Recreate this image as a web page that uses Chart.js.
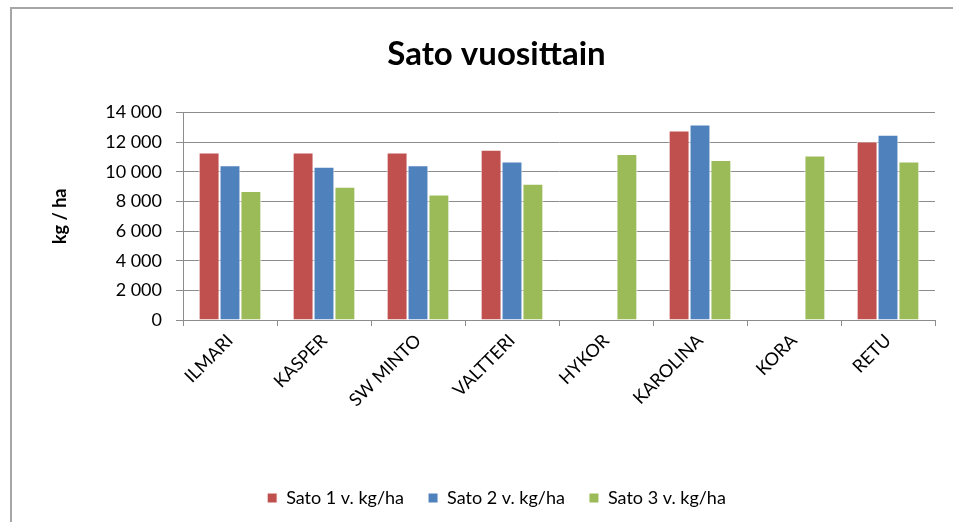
<!DOCTYPE html>
<html lang="fi">
<head>
<meta charset="UTF-8">
<title>Sato vuosittain</title>
<script src="https://cdn.jsdelivr.net/npm/chart.js"></script>
<style>
  body { margin: 0; background: #fff; overflow: hidden; }
  .kehys { position: absolute; left: 10px; top: 7px; width: 1000px; height: 600px; border: 2px solid #a6a6a6; box-sizing: border-box; }
  #wrap { position: absolute; left: 0; top: 0; width: 953px; height: 522px; }
</style>
</head>
<body>
<div class="kehys"></div>
<div id="wrap"><canvas id="satoChart" width="953" height="522"></canvas></div>
<script>
// lajikkeet ja satotiedot (kg/ha)
const lajikkeet = ['ILMARI', 'KASPER', 'SW MINTO', 'VALTTERI', 'HYKOR', 'KAROLINA', 'KORA', 'RETU'];
const sato1 = [11300, 11300, 11300, 11500, null, 12800, null, 12050];
const sato2 = [10450, 10350, 10450, 10700, null, 13200, null, 12500];
const sato3 = [8700, 9000, 8470, 9200, 11200, 10800, 11100, 10700];
const sarjat = ['Sato 1 v. kg/ha', 'Sato 2 v. kg/ha', 'Sato 3 v. kg/ha'];

const fontti = 'Lato, "Open Sans", sans-serif';
const harmaa = '#8c8c8c';

function tuhannet(v) {
  return String(v).replace(/\B(?=(\d{3})+(?!\d))/g, ' ');
}

new Chart(document.getElementById('satoChart'), {
  type: 'bar',
  data: {
    labels: lajikkeet,
    datasets: [
      { label: sarjat[0], data: sato1, backgroundColor: '#C0504D' },
      { label: sarjat[1], data: sato2, backgroundColor: '#4F81BD' },
      { label: sarjat[2], data: sato3, backgroundColor: '#9BBB59' }
    ]
  },
  options: {
    responsive: false,
    animation: false,
    // vasen reuna 58, jotta otsikko ja selite keskittyvät kuten alkuperäisessä
    layout: { padding: { left: 58, right: 18, top: 0, bottom: 5 } },
    datasets: {
      bar: {
        categoryPercentage: 0.667,
        barPercentage: 1,
        borderColor: '#ffffff',
        borderWidth: 1
      }
    },
    scales: {
      x: {
        afterFit: function (s) { s.height = 145; },
        grid: { drawOnChartArea: false, drawTicks: true, tickLength: 6, color: harmaa, offset: true },
        border: { color: harmaa, width: 1 },
        ticks: {
          color: '#000',
          font: { family: fontti, size: 18 },
          maxRotation: 45,
          minRotation: 45,
          padding: 4
        }
      },
      y: {
        min: 0,
        max: 14000,
        afterFit: function (s) { s.width = 125; },
        grid: { color: harmaa, lineWidth: 1, drawTicks: true, tickLength: 7 },
        border: { color: harmaa, width: 1 },
        ticks: {
          stepSize: 2000,
          color: '#000',
          padding: 14,
          font: { family: fontti, size: 18 },
          callback: function (v) { return tuhannet(v); }
        },
        title: {
          display: true,
          text: 'kg / ha',
          color: '#000',
          font: { family: fontti, size: 18, weight: 'bold' },
          padding: { top: -9, bottom: 0 }
        }
      }
    },
    plugins: {
      title: {
        display: true,
        text: 'Sato vuosittain',
        color: '#000',
        font: { family: fontti, size: 33, weight: 'bold' },
        padding: { top: 35, bottom: 38 }
      },
      legend: {
        position: 'bottom',
        labels: {
          color: '#000',
          font: { family: fontti, size: 18 },
          boxWidth: 10,
          boxHeight: 10,
          padding: 24
        }
      },
      tooltip: { enabled: false }
    }
  }
});
</script>
</body>
</html>
